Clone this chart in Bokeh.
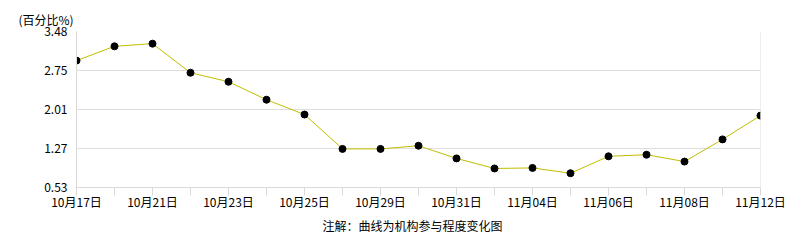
from bokeh.plotting import figure
from bokeh.models import FixedTicker, Range1d, Title, Span
from bokeh.embed import file_html
from bokeh.resources import INLINE

dates = ["10月17日", "10月18日", "10月21日", "10月22日", "10月23日", "10月24日", "10月25日",
         "10月28日", "10月29日", "10月30日", "10月31日", "11月01日", "11月04日", "11月05日",
         "11月06日", "11月07日", "11月08日", "11月11日", "11月12日"]
values = [2.93, 3.20, 3.25, 2.70, 2.53, 2.19, 1.91, 1.26, 1.26, 1.32, 1.08, 0.89, 0.90, 0.80,
          1.12, 1.15, 1.02, 1.44, 1.89]
y_ticks = [0.53, 1.27, 2.01, 2.75, 3.48]
unit_label = "(百分比%)"
footer = "注解：曲线为机构参与程度变化图"

FONT = "Noto Sans CJK SC"
idx = list(range(len(dates)))

p = figure(width=786, height=240, output_backend="svg", toolbar_location=None,
           x_range=Range1d(0, len(dates) - 1), y_range=Range1d(y_ticks[0], y_ticks[-1]),
           min_border_left=76, min_border_right=26, min_border_top=31, min_border_bottom=53)
p.outline_line_color = None
p.background_fill_color = "white"
p.border_fill_color = "white"

p.line(idx, values, line_color="#c0bd00", line_width=1)
p.scatter(idx, values, size=7, fill_color="black", line_color="black")

# y axis
p.yaxis.ticker = FixedTicker(ticks=y_ticks)
p.yaxis.major_label_overrides = {t: f"{t:.2f}" for t in y_ticks}
p.yaxis.major_tick_line_color = None
p.yaxis.major_tick_out = 0
p.yaxis.major_tick_in = 0
p.yaxis.minor_tick_line_color = None
p.yaxis.axis_line_color = "#d9d9d9"
p.yaxis.major_label_standoff = 9
p.yaxis.major_label_text_font = FONT
p.yaxis.major_label_text_font_size = "12px"
p.yaxis.major_label_text_color = "black"

# x axis
p.xaxis.ticker = FixedTicker(ticks=idx)
p.xaxis.major_label_overrides = {i: (d if i % 2 == 0 else "") for i, d in enumerate(dates)}
p.xaxis.major_tick_out = 8
p.xaxis.major_tick_in = 0
p.xaxis.major_tick_line_color = "#d9d9d9"
p.xaxis.minor_tick_line_color = None
p.xaxis.axis_line_color = "#d9d9d9"
p.xaxis.major_label_standoff = -3
p.xaxis.major_label_text_font = FONT
p.xaxis.major_label_text_font_size = "12px"
p.xaxis.major_label_text_color = "black"

p.xgrid.grid_line_color = None
p.ygrid.grid_line_color = "#dedede"

p.add_layout(Span(location=idx[-1], dimension="height", line_color="#dedede", line_width=1))

p.add_layout(Title(text=unit_label, align="left", offset=-58, standoff=8,
                   text_font=FONT, text_font_size="12px", text_font_style="normal",
                   text_color="black"), "above")
p.add_layout(Title(text=footer, align="left", offset=246, standoff=4,
                   text_font=FONT, text_font_size="12px", text_font_style="normal",
                   text_color="black"), "below")

open("out.html", "w").write(file_html(p, INLINE))
